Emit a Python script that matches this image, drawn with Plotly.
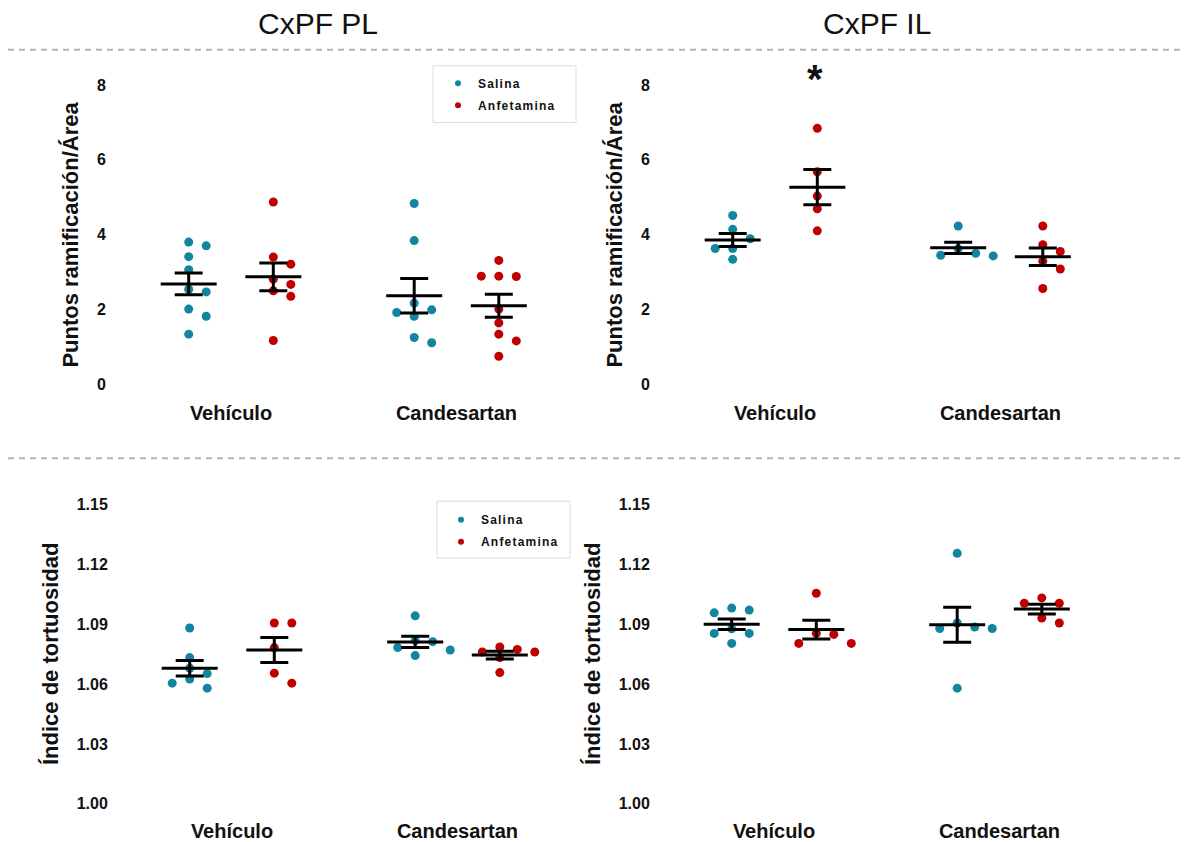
import numpy as np
import plotly.graph_objects as go

W, H = 1184, 842

# ---------------- data ----------------
categories = ["Vehículo", "Candesartan"]
treatments = ["Salina", "Anfetamina"]
panel_titles = ["CxPF PL", "CxPF IL"]
y_title_top = "Puntos ramificación/Área"
y_title_bottom = "Índice de tortuosidad"
top_ticks = [0, 2, 4, 6, 8]
bottom_ticks = [1.00, 1.03, 1.06, 1.09, 1.12, 1.15]
significance_mark = "*"

# Puntos de ramificación / área — CxPF PL
pl_ramif_sal_veh = [3.80, 3.70, 3.41, 3.06, 2.54, 2.47, 2.01, 1.82, 1.34]
pl_ramif_anf_veh = [4.87, 3.40, 3.21, 2.81, 2.67, 2.50, 2.35, 1.17]
pl_ramif_sal_cand = [4.83, 3.84, 2.17, 1.99, 1.92, 1.82, 1.25, 1.11]
pl_ramif_anf_cand = [3.31, 2.89, 2.88, 2.89, 2.01, 1.64, 1.34, 1.16, 0.75]
# Puntos de ramificación / área — CxPF IL
il_ramif_sal_veh = [4.51, 4.14, 3.89, 3.63, 3.63, 3.34]
il_ramif_anf_veh = [6.84, 5.68, 5.03, 4.69, 4.10]
il_ramif_sal_cand = [4.23, 3.62, 3.50, 3.45, 3.43]
il_ramif_anf_cand = [4.23, 3.73, 3.55, 3.29, 3.08, 2.56]
# Índice de tortuosidad — CxPF PL
pl_tort_sal_veh = [1.0880, 1.0732, 1.0679, 1.0652, 1.0625, 1.0604, 1.0579]
pl_tort_anf_veh = [1.0905, 1.0905, 1.0782, 1.0654, 1.0604]
pl_tort_sal_cand = [1.0941, 1.0817, 1.0812, 1.0782, 1.0770, 1.0742]
pl_tort_anf_cand = [1.0785, 1.0773, 1.0760, 1.0760, 1.0732, 1.0657]
# Índice de tortuosidad — CxPF IL
il_tort_sal_veh = [1.0980, 1.0970, 1.0956, 1.0876, 1.0853, 1.0853, 1.0803]
il_tort_anf_veh = [1.1054, 1.0853, 1.0848, 1.0803, 1.0803]
il_tort_sal_cand = [1.1254, 1.0905, 1.0885, 1.0878, 1.0878, 1.0579]
il_tort_anf_cand = [1.1031, 1.1004, 1.1004, 1.0930, 1.0905]

# ---------------- styles / layout constants ----------------
TEAL = "#12869f"
RED = "#c00000"
colors = [TEAL, RED]
FONT = "Liberation Sans, Arial, sans-serif"
INK = "#111111"

PX_PER_CAT = 225.5        # px between category centres
SUB_OFF = 42.3            # px offset of each treatment from category centre
SWARM_STEP = 17.5         # px between swarm columns
MEAN_HALF = 28.0          # px half length of mean line
CAP_HALF = 14             # px half length of SEM caps
DOT = 9
PANEL_W = 474

panels = [
    dict(ax="", left=116, c0=231, top=70, bottom=392, v_lo=0.0, p_lo=385.7, v_hi=8.0, p_hi=85.2,
         data=[[pl_ramif_sal_veh, pl_ramif_anf_veh], [pl_ramif_sal_cand, pl_ramif_anf_cand]],
         ticks=top_ticks, fmt="{:d}", ytitle=y_title_top, ytx=71),
    dict(ax="2", left=660, c0=775, top=70, bottom=392, v_lo=0.0, p_lo=385.7, v_hi=8.0, p_hi=85.2,
         data=[[il_ramif_sal_veh, il_ramif_anf_veh], [il_ramif_sal_cand, il_ramif_anf_cand]],
         ticks=top_ticks, fmt="{:d}", ytitle=y_title_top, ytx=615),
    dict(ax="3", left=118, c0=232, top=495, bottom=812, v_lo=1.00, p_lo=806.7, v_hi=1.15, p_hi=506.0,
         data=[[pl_tort_sal_veh, pl_tort_anf_veh], [pl_tort_sal_cand, pl_tort_anf_cand]],
         ticks=bottom_ticks, fmt="{:.2f}", ytitle=y_title_bottom, ytx=50),
    dict(ax="4", left=660, c0=774, top=495, bottom=812, v_lo=1.00, p_lo=806.7, v_hi=1.15, p_hi=506.0,
         data=[[il_tort_sal_veh, il_tort_anf_veh], [il_tort_sal_cand, il_tort_anf_cand]],
         ticks=bottom_ticks, fmt="{:.2f}", ytitle=y_title_bottom, ytx=592),
]


def swarm(values, center, step_units, px_per_unit, min_gap_px):
    """Simple column swarm: each point goes to the first free column."""
    placed = []
    xs = [center] * len(values)
    for i, v in enumerate(values):
        for k in [0, 1, -1, 2, -2, 3, -3]:
            clash = any(kk == k and abs(v - vv) * px_per_unit < min_gap_px for kk, vv in placed)
            if not clash:
                placed.append((k, v))
                xs[i] = center + k * step_units
                break
    return xs


fig = go.Figure()
layout_axes = {}
annotations = []

for p in panels:
    ax = p["ax"]
    xname, yname = "x" + ax, "y" + ax
    ppu_y = (p["p_lo"] - p["p_hi"]) / (p["v_hi"] - p["v_lo"])
    y_top = p["v_hi"] + (p["p_hi"] - p["top"]) / ppu_y
    y_bot = p["v_lo"] - (p["bottom"] - p["p_lo"]) / ppu_y
    x_lo = (p["left"] - p["c0"]) / PX_PER_CAT
    x_hi = (p["left"] + PANEL_W - p["c0"]) / PX_PER_CAT
    sub = SUB_OFF / PX_PER_CAT
    step = SWARM_STEP / PX_PER_CAT
    half = MEAN_HALF / PX_PER_CAT

    mean_x, mean_y, cen_x, cen_y, sems = [], [], [], [], []
    for ci, _cat in enumerate(categories):
        for ti, _tr in enumerate(treatments):
            vals = p["data"][ci][ti]
            c = ci + (-sub if ti == 0 else sub)
            xs = swarm(vals, c, step, ppu_y, DOT + 1.5)
            fig.add_trace(go.Scatter(
                x=xs, y=vals, mode="markers", xaxis=xname, yaxis=yname,
                marker=dict(size=DOT, color=colors[ti], line=dict(width=0)),
                showlegend=False, hoverinfo="skip"))
            arr = np.array(vals, dtype=float)
            m = arr.mean()
            s = arr.std(ddof=1) / np.sqrt(len(arr))
            mean_x += [c - half, c + half, None]
            mean_y += [m, m, None]
            cen_x.append(c)
            cen_y.append(m)
            sems.append(s)

    fig.add_trace(go.Scatter(x=mean_x, y=mean_y, mode="lines", xaxis=xname, yaxis=yname,
                             line=dict(color="black", width=3), showlegend=False, hoverinfo="skip"))
    fig.add_trace(go.Scatter(x=cen_x, y=cen_y, mode="markers", xaxis=xname, yaxis=yname,
                             marker=dict(size=1, color="rgba(0,0,0,0)"),
                             error_y=dict(type="data", array=sems, symmetric=True, color="black",
                                          thickness=3, width=CAP_HALF),
                             showlegend=False, hoverinfo="skip"))

    layout_axes["xaxis" + ax] = dict(
        domain=[p["left"] / W, (p["left"] + PANEL_W) / W], range=[x_lo, x_hi],
        anchor=yname, tickvals=list(range(len(categories))), ticktext=categories,
        showgrid=False, zeroline=False, showline=False,
        ticks="outside", ticklen=4, tickcolor="rgba(0,0,0,0)",
        tickfont=dict(family=FONT, size=20, color=INK, weight="bold"))
    layout_axes["yaxis" + ax] = dict(
        domain=[1 - p["bottom"] / H, 1 - p["top"] / H], range=[y_bot, y_top],
        anchor=xname, tickvals=p["ticks"], ticktext=[p["fmt"].format(t) for t in p["ticks"]],
        showgrid=False, zeroline=False, showline=False,
        ticks="outside", ticklen=6, tickcolor="rgba(0,0,0,0)",
        tickfont=dict(family=FONT, size=16, color=INK, weight="bold"))

    annotations.append(dict(
        text=p["ytitle"], xref="paper", yref="paper", x=p["ytx"] / W,
        y=1 - ((p["p_lo"] + p["p_hi"]) / 2) / H, xanchor="center", yanchor="middle",
        textangle=-90, showarrow=False,
        font=dict(family=FONT, size=22, color=INK, weight="bold")))

# panel titles
for title, cx in zip(panel_titles, [317.5, 877.0]):
    annotations.append(dict(text=title, xref="paper", yref="paper", x=cx / W, y=1 - 24 / H,
                            xanchor="center", yanchor="middle", showarrow=False,
                            font=dict(family=FONT, size=30, color=INK)))

# significance mark above IL Vehículo + Anfetamina
annotations.append(dict(text=significance_mark, xref="x2", yref="y2",
                        x=0 + SUB_OFF / PX_PER_CAT - 0.012, y=8.15, xanchor="center", yanchor="middle",
                        showarrow=False, font=dict(family=FONT, size=40, color=INK, weight="bold")))

# legend-only traces
for lg in ["legend", "legend2"]:
    for tr, col in zip(treatments, colors):
        fig.add_trace(go.Scatter(
            x=[None], y=[None], mode="markers",
            name='<span style="letter-spacing:1.2px">' + tr + "</span>",
            marker=dict(size=6, color=col), legend=lg, legendgroup=lg + tr, showlegend=True))

legend_style = dict(xanchor="left", yanchor="top", bgcolor="rgba(0,0,0,0)", borderwidth=0,
                    font=dict(family=FONT, size=12, color=INK, weight="bold"),
                    tracegroupgap=3, itemclick=False, itemdoubleclick=False)

shapes = []
for yy in [50, 460]:
    shapes.append(dict(type="line", xref="paper", yref="paper", x0=8 / W, x1=1, y0=1 - yy / H, y1=1 - yy / H,
                       line=dict(color="#b3b3b3", width=2, dash="6px,5px")))
# legend frames
for (x0, y0, x1, y1) in [(433, 66, 576, 123), (437, 503, 570, 560)]:
    shapes.append(dict(type="rect", xref="paper", yref="paper", x0=x0 / W, x1=x1 / W,
                       y0=1 - y1 / H, y1=1 - y0 / H, line=dict(color="#dcdcdc", width=1),
                       fillcolor="rgba(0,0,0,0)", layer="above"))

fig.update_layout(
    width=W, height=H, margin=dict(l=0, r=0, t=0, b=0),
    paper_bgcolor="white", plot_bgcolor="white",
    annotations=annotations, shapes=shapes,
    legend=dict(x=433 / W, y=1 - 69 / H, indentation=5, **legend_style),
    legend2=dict(x=437 / W, y=1 - 507 / H, indentation=4, **legend_style),
    **layout_axes)

fig.write_html("out.html", config={"displayModeBar": False},
               post_script="document.body.style.margin='0px';")
